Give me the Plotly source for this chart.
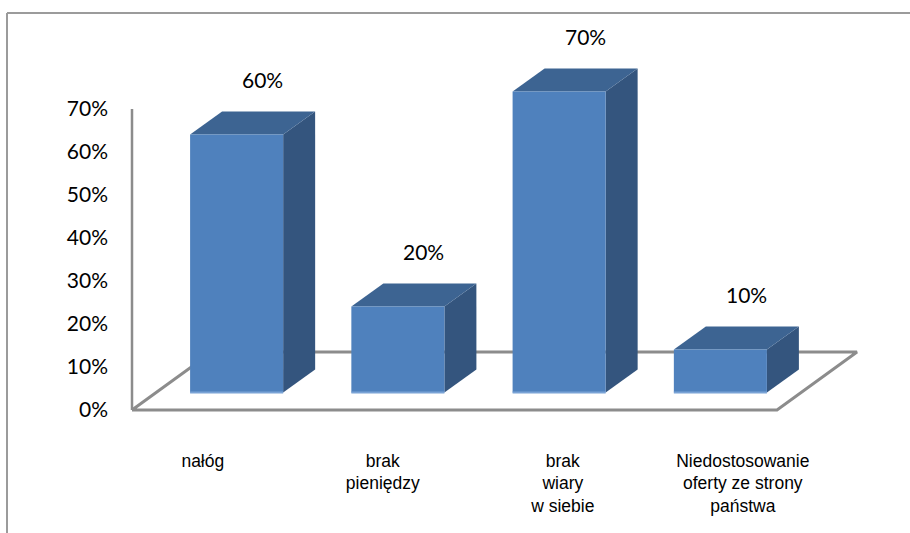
import plotly.graph_objects as go

# ---- data -------------------------------------------------------------
categories = [
    "nałóg",
    "brak<br>pieniędzy",
    "brak<br>wiary<br>w siebie",
    "Niedostosowanie<br>oferty ze strony<br>państwa",
]
values = [60, 20, 70, 10]                      # percent
tick_values = [0, 10, 20, 30, 40, 50, 60, 70]
tick_labels = [f"{v}%" for v in tick_values]

# ---- figure / projection settings ------------------------------------
W, H = 910, 533
PX_PER_CAT = 161.25          # horizontal pixels per category slot
PX_PER_PCT = 4.3             # vertical pixels per percent
FLOOR_LEFT_PX = 132          # front-left corner of the floor
FLOOR_FRONT_PX = 410         # front edge of the floor (0%)
DEPTH_PX = (80, 58)          # oblique shift of the full floor depth

DEPTH_X = DEPTH_PX[0] / PX_PER_CAT
DEPTH_Y = DEPTH_PX[1] / PX_PER_PCT
BAR_W = 0.577
Z_FRONT, Z_BACK = 0.3, 0.7

x_lo = -0.5 - FLOOR_LEFT_PX / PX_PER_CAT
x_hi = x_lo + W / PX_PER_CAT
y_hi = FLOOR_FRONT_PX / PX_PER_PCT
y_lo = y_hi - H / PX_PER_PCT

FRONT = "#4F81BD"
TOP = "#3D6492"
SIDE = "#34557E"
EDGE = "#7AA3D6"
GRID = "#8C8C8C"


def proj(x, y, z):
    """Oblique projection of (category, percent, depth) onto the plot plane."""
    return x + z * DEPTH_X, y + z * DEPTH_Y


def poly(points, color):
    xs, ys = zip(*[proj(*p) for p in points])
    return go.Scatter(
        x=list(xs) + [xs[0]], y=list(ys) + [ys[0]],
        mode="lines", fill="toself", fillcolor=color,
        line=dict(width=0, color=color),
        hoverinfo="skip", showlegend=False,
    )


def polyline(points, color, width):
    xs, ys = zip(*[proj(*p) for p in points])
    return go.Scatter(
        x=xs, y=ys, mode="lines", line=dict(color=color, width=width),
        hoverinfo="skip", showlegend=False,
    )


fig = go.Figure()

n = len(values)
left, right = -0.5, n - 0.5

# floor outline and value-axis line
fig.add_trace(polyline(
    [(left, 0, 0), (right, 0, 0), (right, 0, 1), (left, 0, 1), (left, 0, 0)],
    GRID, 3))
fig.add_trace(polyline([(left, 0, 0), (left, max(tick_values), 0)], GRID, 2.5))

# 3-D columns
for i, v in enumerate(values):
    x0, x1 = i - BAR_W / 2, i + BAR_W / 2
    # right side
    fig.add_trace(poly([(x1, 0, Z_FRONT), (x1, 0, Z_BACK),
                        (x1, v, Z_BACK), (x1, v, Z_FRONT)], SIDE))
    # top
    fig.add_trace(poly([(x0, v, Z_FRONT), (x1, v, Z_FRONT),
                        (x1, v, Z_BACK), (x0, v, Z_BACK)], TOP))
    # front
    fig.add_trace(poly([(x0, 0, Z_FRONT), (x1, 0, Z_FRONT),
                        (x1, v, Z_FRONT), (x0, v, Z_FRONT)], FRONT))
    # lighter bottom edge of the front face
    fig.add_trace(polyline([(x0, 0, Z_FRONT), (x1, 0, Z_FRONT)], EDGE, 2))

    # value label above the column
    lx, ly = proj(i, v, (Z_FRONT + Z_BACK) / 2)
    fig.add_annotation(
        x=lx, y=ly, text=f"{v}%", showarrow=False,
        xshift=10, yshift=44, xanchor="center", yanchor="middle",
        font=dict(family="Lato", size=21, color="#000000"),
    )

# invisible anchor trace for the category-label axis
fig.add_trace(go.Scatter(
    x=list(range(n)), y=[0] * n, xaxis="x2", mode="markers",
    marker=dict(opacity=0), hoverinfo="skip", showlegend=False,
))

# chart frame (top and left edges)
fig.add_shape(type="line", xref="paper", yref="paper",
              x0=7 / W, x1=1.01, y0=1 - 13 / H, y1=1 - 13 / H,
              line=dict(color="#9B9B9B", width=2))
fig.add_shape(type="line", xref="paper", yref="paper",
              x0=7 / W, x1=7 / W, y0=1 - 13 / H, y1=-0.01,
              line=dict(color="#9B9B9B", width=2))

LABEL_X0_PX, LABEL_PITCH_PX = 202.8, 180.0

fig.update_layout(
    width=W, height=H,
    margin=dict(l=0, r=0, t=0, b=0),
    paper_bgcolor="white", plot_bgcolor="white",
    showlegend=False,
    xaxis=dict(range=[x_lo, x_hi], visible=False, fixedrange=True),
    xaxis2=dict(
        overlaying="x", anchor="free", position=(H - 448) / H, side="bottom",
        range=[-LABEL_X0_PX / LABEL_PITCH_PX, (W - LABEL_X0_PX) / LABEL_PITCH_PX],
        tickmode="array", tickvals=list(range(n)), ticktext=categories,
        showgrid=False, zeroline=False, showline=False, ticks="",
        tickfont=dict(family="Liberation Sans", size=17.5, color="#000000"),
    ),
    yaxis=dict(
        range=[y_lo, y_hi], anchor="free", position=FLOOR_LEFT_PX / W,
        tickmode="array", tickvals=tick_values, ticktext=tick_labels,
        showgrid=False, zeroline=False, showline=False, ticks="",
        ticklabelstandoff=24,
        tickfont=dict(family="Lato", size=21, color="#000000"),
    ),
)

fig.write_html("out.html")
